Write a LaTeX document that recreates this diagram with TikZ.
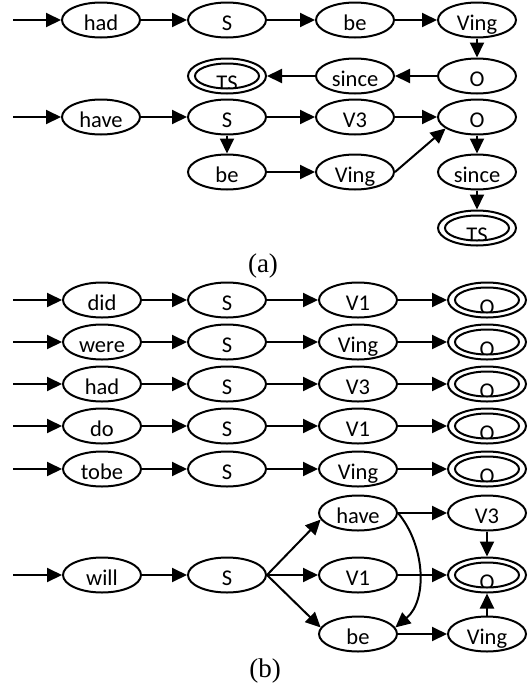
\documentclass[tikz,border=0pt]{standalone}
\usepackage{fontspec}
\setmainfont{Carlito}
\newfontfamily\capfont{Liberation Serif}
\usetikzlibrary{arrows.meta,shapes.geometric}
\begin{document}
\begin{tikzpicture}[x=1pt,y=-1pt,
  st/.style={ellipse,draw,line width=2pt,minimum width=78pt,minimum height=35pt,inner sep=0pt,
    text height=20pt,text depth=0pt,font=\fontsize{22.5}{26}\selectfont},
  acco/.style={ellipse,draw,line width=2pt,minimum width=78pt,minimum height=35pt,inner sep=0pt},
  acci/.style 2 args={ellipse,draw,line width=2pt,minimum width=64pt,minimum height=25pt,inner sep=0pt,
    path picture={\node[inner sep=0pt,text height=20pt,text depth=0pt,font=\fontsize{22.5}{26}\selectfont]
      (#2) at ([yshift=-4pt]path picture bounding box.center) {#1};}},
  arr/.style={line width=2pt,-{Triangle[length=15pt,width=14pt]}},
  captext/.style={font=\capfont\fontsize{27}{30}\selectfont}]
\useasboundingbox (0,0) rectangle (528,689);

% ---------- (a) ----------
\coordinate (sa1) at (13,20);
\node[st] (ahad) at (101,20) {had};
\node[st] (aS1) at (227,20) {S};
\node[st] (abe1) at (355,20) {be};
\node[st] (aVing1) at (477,20) {Ving};
\node[st] (aO1) at (477,76) {O};
\node[st] (asince1) at (355,76) {since};
\node[acco] (aTS1) at (227,76) {};
\node[acci={TS}{aTSt1}] (aTSi1) at (aTS1) {};

\coordinate (sa2) at (13,117);
\node[st] (ahave) at (101,117) {have};
\node[st] (aS2) at (227,117) {S};
\node[st] (aV3) at (355,117) {V3};
\node[st] (aO2) at (477,117) {O};
\node[st] (abe2) at (227,172) {be};
\node[st] (aVing2) at (355,172) {Ving};
\node[st] (asince2) at (477,172) {since};
\node[acco] (aTS2) at (477,228) {};
\node[acci={TS}{aTSt2}] (aTSi2) at (aTS2) {};

\draw[arr] (sa1) -- (ahad);
\draw[arr] (ahad) -- (aS1);
\draw[arr] (aS1) -- (abe1);
\draw[arr] (abe1) -- (aVing1);
\draw[arr] (aVing1) -- (aO1);
\draw[arr] (aO1) -- (asince1);
\draw[arr] (asince1) -- (aTS1);

\draw[arr] (sa2) -- (ahave);
\draw[arr] (ahave) -- (aS2);
\draw[arr] (aS2) -- (aV3);
\draw[arr] (aV3) -- (aO2);
\draw[arr] (aS2) -- (abe2);
\draw[arr] (abe2) -- (aVing2);
\draw[arr] (aVing2.east) -- (aO2.200);
\draw[arr] (aO2) -- (asince2);
\draw[arr] (asince2) -- (aTS2);

\node[captext] (capa) at (263,266) {(a)};

% ---------- (b) ----------
\foreach \w/\v/\y/\i in {did/V1/300/1, were/Ving/342/2, had/V3/384/3, do/V1/426/4, tobe/Ving/469/5} {
  \coordinate (bs\i) at (13,\y);
  \node[st] (bw\i) at (102,\y) {\w};
  \node[st] (bS\i) at (227,\y) {S};
  \node[st] (bv\i) at (358,\y) {\v};
  \node[acco] (bO\i) at (487,\y) {};
  \node[acci={O}{bOt\i}] (bOi\i) at (bO\i) {};
  \draw[arr] (bs\i) -- (bw\i);
  \draw[arr] (bw\i) -- (bS\i);
  \draw[arr] (bS\i) -- (bv\i);
  \draw[arr] (bv\i) -- (bO\i);
}

\coordinate (bs6) at (13,575);
\node[st] (bwill) at (102,575) {will};
\node[st] (bS6) at (227,575) {S};
\node[st] (bhave) at (358,513) {have};
\node[st] (bV1) at (358,575) {V1};
\node[st] (bbe) at (358,634) {be};
\node[st] (bV3) at (487,513) {V3};
\node[acco] (bO6) at (487,575) {};
\node[acci={O}{bOt6}] (bOi6) at (bO6) {};
\node[st] (bVing) at (487,634) {Ving};

\draw[arr] (bs6) -- (bwill);
\draw[arr] (bwill) -- (bS6);
\draw[arr] (bS6.east) -- (bhave.190);
\draw[arr] (bS6.east) -- (bV1);
\draw[arr] (bS6.east) -- (bbe.170);
\draw[arr] (bhave) -- (bV3);
\draw[arr] (bV3) -- (bO6);
\draw[arr] (bV1) -- (bO6);
\draw[arr] (bhave.east) .. controls (425,545) and (428,600) .. (bbe.10);
\draw[arr] (bbe) -- (bVing);
\draw[arr] (bVing) -- (bO6);

\node[captext] (capb) at (265,671) {(b)};
\end{tikzpicture}
\end{document}
